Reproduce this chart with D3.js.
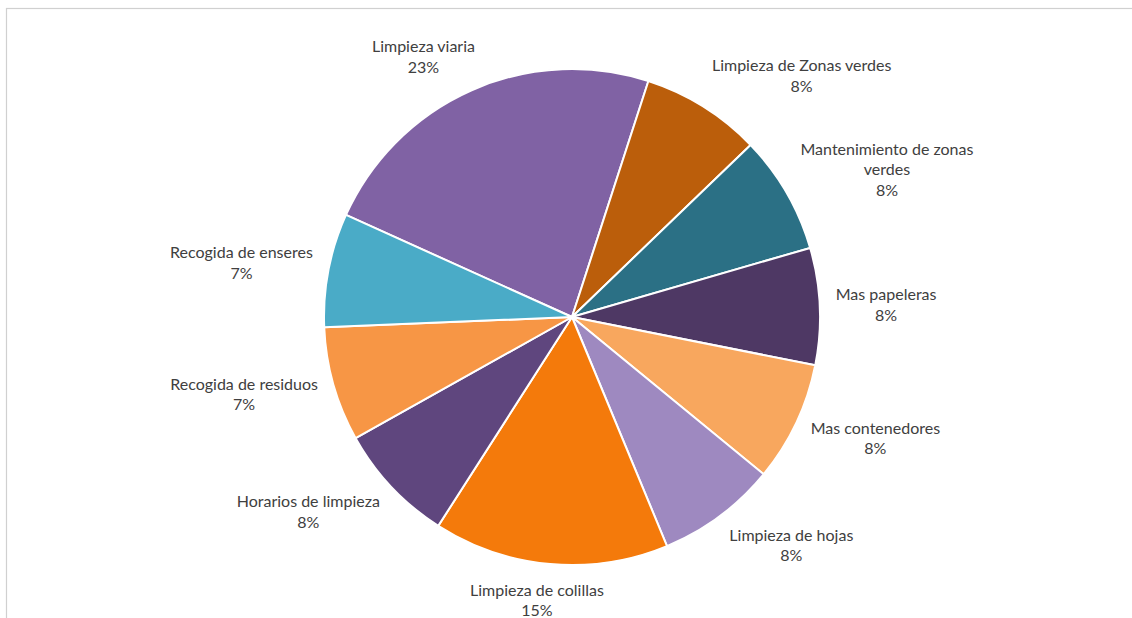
<!DOCTYPE html>
<html>
<head>
<meta charset="utf-8">
<script src="https://cdn.jsdelivr.net/npm/d3@7/dist/d3.min.js"></script>
<style>
  html, body { margin: 0; padding: 0; background: #ffffff; }
  svg { display: block; }
  text { font-family: Lato, "Open Sans", "Liberation Sans", sans-serif; fill: #404040; }
</style>
</head>
<body>
<svg id="chart" width="1132" height="618"></svg>
<script>
// Data, in clockwise order starting with "Limpieza viaria"
const categories = [
  "Limpieza viaria",
  "Limpieza de Zonas verdes",
  "Mantenimiento de zonas verdes",
  "Mas papeleras",
  "Mas contenedores",
  "Limpieza de hojas",
  "Limpieza de colillas",
  "Horarios de limpieza",
  "Recogida de residuos",
  "Recogida de enseres"
];
const values = [23.2, 7.8, 7.7, 7.6, 7.8, 7.8, 15.3, 7.8, 7.45, 7.4];
const colors = [
  "#8062a4", "#bb5e0b", "#2b7085", "#4e3864", "#f8a75e",
  "#9e89c0", "#f47a0b", "#5f467e", "#f79645", "#4aabc7"
];

const W = 1132, H = 618;
const cx = 572, cy = 317, R = 248;
const startDeg = -65.7;

const svg = d3.select("#chart");

// chart frame
svg.append("rect")
  .attr("x", 6.5).attr("y", 8.5)
  .attr("width", W + 10).attr("height", H + 10)
  .attr("fill", "none").attr("stroke", "#d0d0d0").attr("stroke-width", 1.2);

const total = d3.sum(values);
const data = categories.map((c, i) => ({ name: c, value: values[i], color: colors[i] }));

const pie = d3.pie()
  .sort(null)
  .value(d => d.value)
  .startAngle(startDeg * Math.PI / 180)
  .endAngle(startDeg * Math.PI / 180 + 2 * Math.PI);

const arcs = pie(data);
const arc = d3.arc().innerRadius(0).outerRadius(R);

const g = svg.append("g").attr("transform", `translate(${cx},${cy})`);

g.selectAll("path.slice")
  .data(arcs)
  .enter().append("path")
  .attr("class", "slice")
  .attr("d", arc)
  .attr("fill", d => d.data.color)
  .attr("stroke", "#ffffff")
  .attr("stroke-width", 2)
  .attr("stroke-linejoin", "round");

// labels (outside end, box anchored to the slice's mid-angle ray)
const fmt = d3.format(".0%");
const fontSize = 16;
const lineH = 20.5;
const maxW = 200;

const measurer = svg.append("text").attr("font-size", fontSize).attr("visibility", "hidden");
function textW(s) { measurer.text(s); return measurer.node().getComputedTextLength(); }

function wrap(s) {
  if (textW(s) <= maxW) return [s];
  const words = s.split(" ");
  const lines = [];
  let cur = "";
  words.forEach(w => {
    const t = cur ? cur + " " + w : w;
    if (cur && textW(t) > maxW) { lines.push(cur); cur = w; }
    else cur = t;
  });
  if (cur) lines.push(cur);
  return lines;
}

const labelOffset = 16;
const clamp = v => Math.max(-1, Math.min(1, v));

arcs.forEach(a => {
  const lines = wrap(a.data.name);
  lines.push(fmt(a.data.value / total));
  const w = d3.max(lines, textW);
  const h = lines.length * lineH;
  const mid = (a.startAngle + a.endAngle) / 2;
  const s = Math.sin(mid), c = Math.cos(mid);
  const px = (R + labelOffset) * s;
  const py = -(R + labelOffset) * c;
  const bx = px + (w / 2) * clamp(2 * s);
  const by = py - (h / 2) * c;
  const t = g.append("text")
    .attr("font-size", fontSize)
    .attr("text-anchor", "middle");
  lines.forEach((ln, i) => {
    t.append("tspan")
      .attr("x", bx)
      .attr("y", by - h / 2 + lineH * (i + 0.5))
      .attr("dy", "0.35em")
      .text(ln);
  });
});
measurer.remove();
</script>
</body>
</html>
